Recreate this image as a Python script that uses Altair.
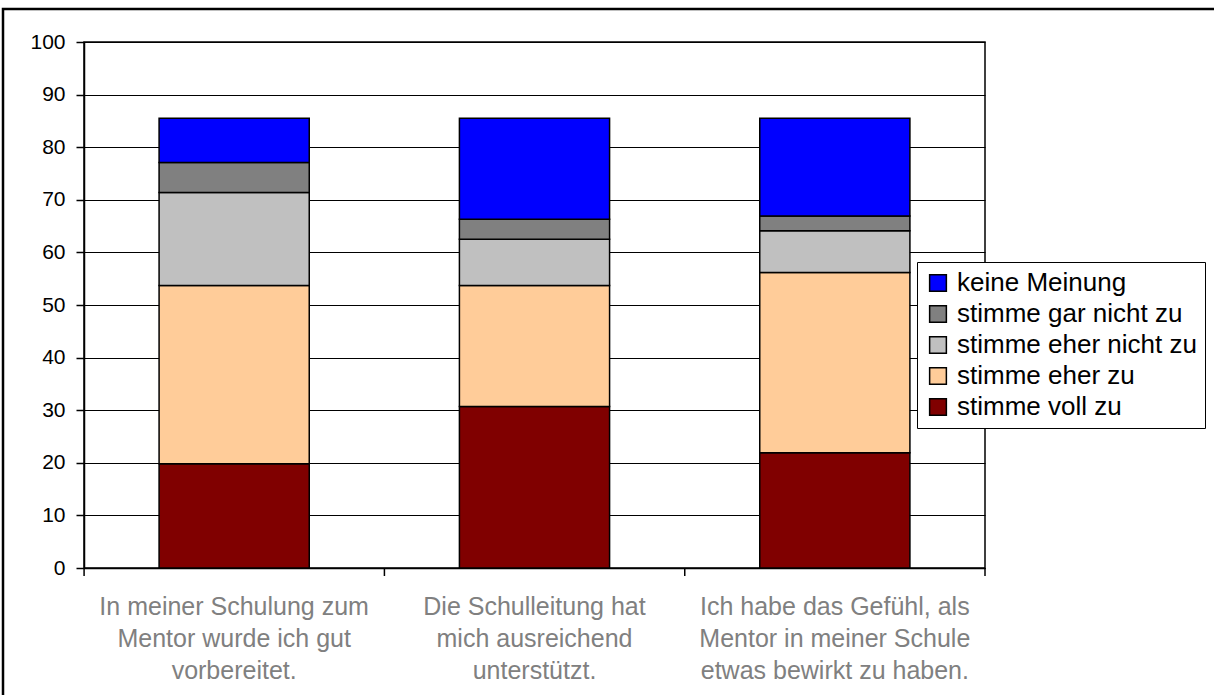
import altair as alt
import pandas as pd

categories = [
    "In meiner Schulung zum|Mentor wurde ich gut|vorbereitet.",
    "Die Schulleitung hat|mich ausreichend|unterstützt.",
    "Ich habe das Gefühl, als|Mentor in meiner Schule|etwas bewirkt zu haben.",
]
series = ["keine Meinung", "stimme gar nicht zu", "stimme eher nicht zu", "stimme eher zu", "stimme voll zu"]
colors = ["#0000FF", "#808080", "#C0C0C0", "#FFCC99", "#800000"]

voll_zu = [19.8, 30.7, 21.9]
eher_zu = [33.9, 23.0, 34.3]
eher_nicht = [17.7, 8.8, 7.9]
gar_nicht = [5.7, 3.8, 2.8]
keine = [8.4, 19.2, 18.6]

values_by_series = {
    "stimme voll zu": voll_zu,
    "stimme eher zu": eher_zu,
    "stimme eher nicht zu": eher_nicht,
    "stimme gar nicht zu": gar_nicht,
    "keine Meinung": keine,
}
stack_rank = {"stimme voll zu": 0, "stimme eher zu": 1, "stimme eher nicht zu": 2,
              "stimme gar nicht zu": 3, "keine Meinung": 4}

rows = []
for s, vals in values_by_series.items():
    for c, v in zip(categories, vals):
        rows.append({"cat": c, "series": s, "value": v, "rank": stack_rank[s]})
df = pd.DataFrame(rows)

W, H = 901, 526
FONT = "Liberation Sans"

xscale = alt.Scale(domain=categories, paddingInner=0.5, paddingOuter=0.25)

bars = alt.Chart(df).mark_bar(stroke="black", strokeWidth=1.5).encode(
    x=alt.X("cat:N", sort=categories, scale=xscale, title=None,
            axis=alt.Axis(labelAngle=0, ticks=False, domain=True, domainColor="black",
                          domainWidth=1.5,
                          labelExpr="split(datum.label, '|')", labelColor="#808080",
                          labelFontSize=25, labelFont=FONT, labelLineHeight=32,
                          labelBaseline="top", labelPadding=26, labelLimit=400)),
    y=alt.Y("value:Q", stack="zero",
            scale=alt.Scale(domain=[0, 100], nice=False),
            title=None,
            axis=alt.Axis(values=list(range(0, 101, 10)), grid=True, gridColor="black",
                          gridWidth=1.2, gridOpacity=1, domainColor="black", domainWidth=1.5,
                          tickColor="black", tickSize=8, tickWidth=1.5,
                          labelFontSize=21, labelFont=FONT, labelColor="black",
                          labelPadding=11)),
    color=alt.Color("series:N", scale=alt.Scale(domain=series, range=colors),
                    legend=alt.Legend(title=None, orient="none", legendX=833, legendY=220,
                                      symbolType="square", symbolSize=280,
                                      symbolStrokeColor="black", symbolStrokeWidth=1.5,
                                      symbolOpacity=1,
                                      labelFontSize=26, labelFont=FONT, labelColor="black",
                                      labelLimit=400, labelOffset=6, rowPadding=5,
                                      strokeColor="black", fillColor="white", padding=8,
                                      values=series)),
    order=alt.Order("rank:Q", sort="ascending"),
)

tick_df = pd.DataFrame({"cat": categories})
xticks = alt.Chart(tick_df).mark_rule(color="black", strokeWidth=1.5, xOffset=-75).encode(
    x=alt.X("cat:N", sort=categories, scale=xscale, bandPosition=0),
    y=alt.value(H), y2=alt.value(H + 8),
)
last_tick = alt.Chart(tick_df.head(1)).mark_rule(color="black", strokeWidth=1.5).encode(
    x=alt.value(W), y=alt.value(H), y2=alt.value(H + 8),
)
frame = alt.Chart(tick_df.head(1)).mark_rect(fill=None, stroke="black", strokeWidth=2.5).encode(
    x=alt.value(-81), x2=alt.value(1300), y=alt.value(-33), y2=alt.value(800),
)

chart = alt.layer(frame, bars, xticks, last_tick).properties(
    width=W, height=H,
    padding={"left": 84, "top": 42, "right": 229, "bottom": 127},
    autosize=alt.AutoSizeParams(type="none"),
    background="white",
).configure_view(stroke="black", strokeWidth=1.5).configure_legend(
    labelFont=FONT
)

chart.save("out.html", embed_options={"renderer": "svg", "actions": False})
